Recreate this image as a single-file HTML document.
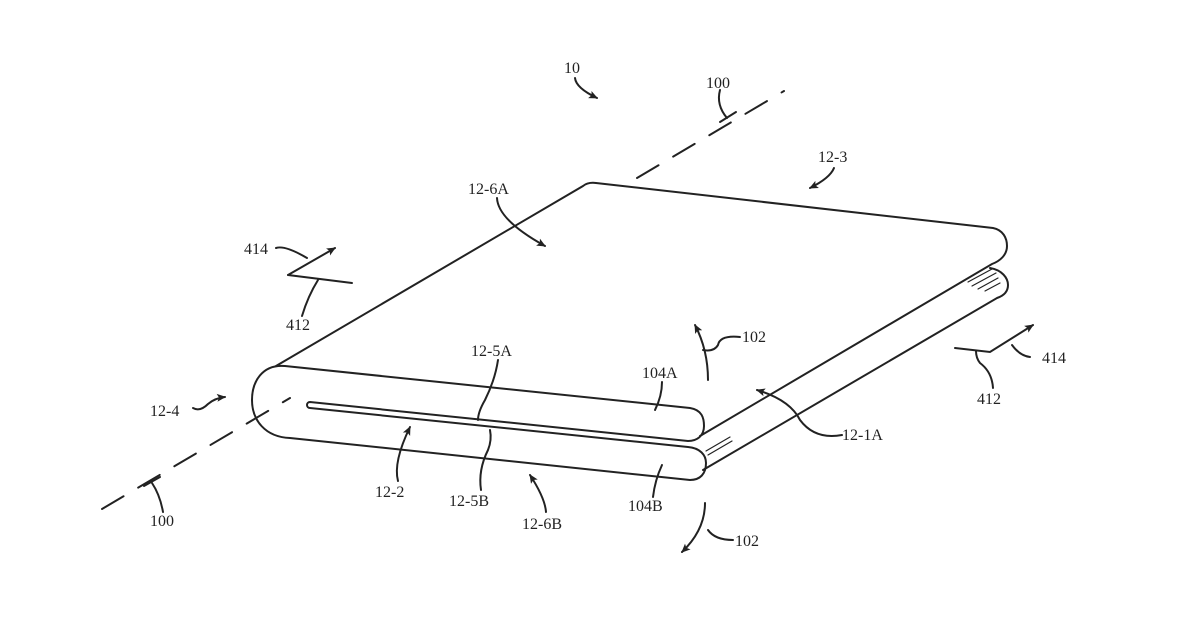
<!DOCTYPE html>
<html><head><meta charset="utf-8"><style>
html,body{margin:0;padding:0;background:#fff;}
svg{display:block;}
text{font-family:"Liberation Serif",serif;font-size:16px;fill:#222;}
</style></head><body>
<svg width="1200" height="627" viewBox="0 0 1200 627" xmlns="http://www.w3.org/2000/svg">
<defs>
<marker id="a" markerWidth="10" markerHeight="10" refX="8" refY="5" orient="auto" markerUnits="userSpaceOnUse">
<path d="M0,1 L9,5 L0,9 L2,5 Z" fill="#222"/></marker>
</defs>
<g fill="none" stroke="#222" stroke-width="2" stroke-linecap="round">
<!-- axis dashed -->
<line x1="102" y1="509" x2="290" y2="398" stroke-dasharray="25,17"/>
<line x1="637" y1="178" x2="784" y2="91" stroke-dasharray="25,17"/>
<!-- top surface -->
<path d="M276,366 L583,186 Q588,182 596,183 L993,228 C1003,230 1007,238 1007,246 C1007,255 1000,261 992,264 L700,436"/>
<!-- lower panel right -->
<path d="M990,268 C1002,270 1008,278 1008,285 C1008,292 1003,296 997,298 L703,470"/>
<!-- front outline -->
<path d="M690,408 L285,366 C262,364 252,382 252,400 C252,420 265,437 290,438 L690,480 C700,480 706,474 706,463 C706,455 700,448 688,447 L310,408 A3,3 0 0 1 310,402 L688,441 C697,441 704,436 704,426 C704,418 702,410 690,408"/>
<!-- hatches -->
<g stroke-width="1.2">
<line x1="968" y1="282" x2="992" y2="269"/><line x1="972" y1="286" x2="996" y2="273"/><line x1="978" y1="289" x2="998" y2="278"/><line x1="985" y1="291" x2="1000" y2="283"/>
<line x1="706" y1="451" x2="730" y2="437"/><line x1="708" y1="455" x2="732" y2="441"/>
</g>
<!-- leaders & arrows -->
<path d="M575,78 Q576,88 597,98" marker-end="url(#a)"/>
<path d="M720,90 Q716,105 727,118"/><line x1="720" y1="122" x2="736" y2="112"/>
<path d="M834,168 Q830,178 810,188" marker-end="url(#a)"/>
<path d="M497,198 Q498,220 545,246" marker-end="url(#a)"/>
<path d="M276,248 Q285,245 307,258"/>
<path d="M288,275 L335,248" marker-end="url(#a)"/><path d="M288,275 L352,283"/>
<path d="M302,316 Q308,296 318,280"/>
<path d="M740,337 Q720,335 718,345 Q714,352 703,350"/>
<path d="M708,380 Q708,350 695,325" marker-end="url(#a)"/>
<path d="M498,360 Q495,380 485,400 Q478,412 478,420"/>
<path d="M662,382 Q662,396 655,410"/>
<path d="M842,435 Q815,440 800,420 Q790,400 757,390" marker-end="url(#a)"/>
<path d="M193,408 Q200,412 208,404 Q215,398 225,397" marker-end="url(#a)"/>
<path d="M398,481 Q393,462 410,427" marker-end="url(#a)"/>
<path d="M481,490 Q478,470 488,450 Q492,440 490,430"/>
<path d="M546,512 Q545,498 530,475" marker-end="url(#a)"/>
<path d="M653,497 Q655,480 662,465"/>
<path d="M705,503 Q705,530 682,552" marker-end="url(#a)"/>
<path d="M733,540 Q715,540 708,530"/>
<path d="M955,348 L990,352 L1033,325" marker-end="url(#a)"/>
<path d="M1030,357 Q1020,356 1012,345"/>
<path d="M993,388 Q992,372 980,363 Q976,358 976,351"/>
<path d="M163,512 Q160,495 152,483"/><line x1="144" y1="486" x2="160" y2="477"/>
</g>
<text x="564" y="73">10</text>
<text x="706" y="88">100</text>
<text x="818" y="162">12-3</text>
<text x="468" y="194">12-6A</text>
<text x="244" y="254">414</text>
<text x="286" y="330">412</text>
<text x="742" y="342">102</text>
<text x="471" y="356">12-5A</text>
<text x="642" y="378">104A</text>
<text x="1042" y="363">414</text>
<text x="977" y="404">412</text>
<text x="150" y="416">12-4</text>
<text x="842" y="440">12-1A</text>
<text x="375" y="497">12-2</text>
<text x="449" y="506">12-5B</text>
<text x="522" y="529">12-6B</text>
<text x="628" y="511">104B</text>
<text x="735" y="546">102</text>
<text x="150" y="526">100</text>
</svg>
</body></html>
